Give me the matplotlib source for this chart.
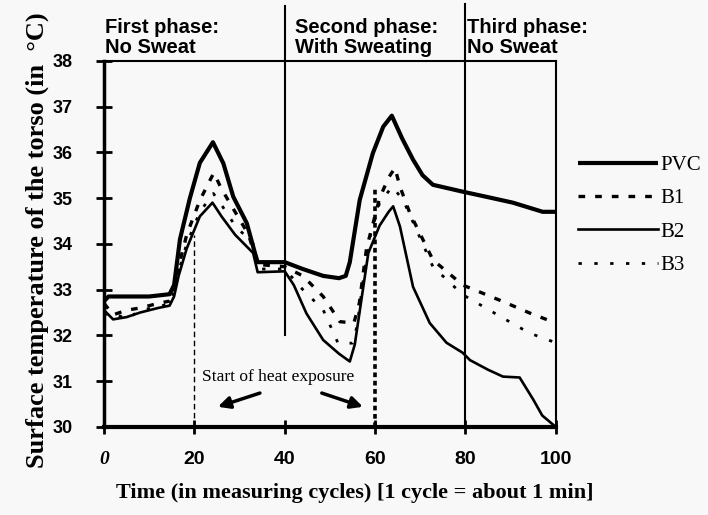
import numpy as np
import matplotlib.pyplot as plt
import matplotlib.transforms as mtransforms

# torso surface temperature
pvc_x = [0, 1, 10, 14.5, 15.5, 16.8, 19, 21.2, 24.1, 26.4, 28.6, 31.6, 33.4, 34, 40,
         44, 48.5, 52, 53.5, 54.4, 56.6, 59.5, 61.8, 63.7, 66, 68.4, 70.5, 72.8, 79.4,
         85, 90.5, 97.1, 100]
pvc_y = [32.75, 32.85, 32.85, 32.9, 33.1, 34.1, 35.0, 35.77, 36.22, 35.76, 35.03, 34.45,
         33.8, 33.6, 33.6, 33.45, 33.3, 33.25, 33.3, 33.6, 34.96, 35.98, 36.56, 36.8, 36.3,
         35.84, 35.5, 35.29, 35.14, 35.02, 34.9, 34.7, 34.7]

b1_x = [0, 2, 5, 8, 12, 14.5, 15.5, 16.5, 18.3, 21.2, 23.5, 24.3, 26, 29, 32, 33.5, 34,
        40, 44, 48.5, 52.2, 55.3, 56.5, 58.1, 61, 63, 64.4, 65.5, 67.7, 72.8, 79.4, 88.3,
        94.2, 100]
b1_y = [32.7, 32.45, 32.55, 32.6, 32.7, 32.75, 33.0, 33.5, 34.2, 34.95, 35.4, 35.55, 35.2,
        34.7, 34.2, 33.7, 33.55, 33.5, 33.3, 32.85, 32.3, 32.27, 32.7, 33.9, 35.0, 35.45,
        35.66, 35.25, 34.67, 33.65, 33.1, 32.74, 32.49, 32.27]

b2_x = [0, 2, 5, 8, 12, 14.5, 15.5, 16.5, 18.3, 21.2, 24, 26, 29, 33, 34, 40, 42, 44.8,
        48.5, 52, 54.4, 55.5, 57, 58.5, 61, 63, 64, 65.5, 68.4, 72.1, 75.8, 79.4, 81, 85,
        88.3, 92, 95, 97, 100]
b2_y = [32.55, 32.35, 32.4, 32.5, 32.6, 32.65, 32.85, 33.3, 33.9, 34.6, 34.9, 34.6, 34.2,
        33.8, 33.38, 33.4, 33.1, 32.48, 31.9, 31.6, 31.43, 31.8, 32.8, 33.8, 34.4, 34.7,
        34.82, 34.38, 33.06, 32.27, 31.84, 31.62, 31.46, 31.25, 31.1, 31.08, 30.6, 30.25,
        30.0]

b3_x = [0, 2, 5, 8, 12, 14.5, 15.5, 16.5, 18.3, 21.2, 24.2, 26, 29, 33, 34, 40, 44, 48.5,
        51.8, 55, 56, 57.5, 59, 61, 63.8, 66.2, 72.8, 79.4, 88.3, 94.2, 100]
b3_y = [32.45, 32.5, 32.35, 32.55, 32.62, 32.7, 32.95, 33.4, 34.0, 34.7, 35.1, 34.85, 34.4,
        34.0, 33.45, 33.45, 33.0, 32.56, 31.83, 31.83, 32.2, 33.3, 34.2, 34.9, 35.25, 34.96,
        33.5, 32.89, 32.38, 32.05, 31.84]

phase_bounds = [40, 80]
heat_start = [20, 60]
phase_texts = ['First phase:\nNo Sweat', 'Second phase:\nWith Sweating', 'Third phase:\nNo Sweat']
phase_text_x = [0.2, 42.3, 80.4]
x_ticks = [0, 20, 40, 60, 80, 100]
y_ticks = [30, 31, 32, 33, 34, 35, 36, 37, 38]

bg = '#f8f8f8'
fig = plt.figure(figsize=(7.08, 5.15), dpi=100, facecolor=bg)
ax = fig.add_axes([0.147, 0.171, 0.638, 0.711], facecolor=bg)

ax.plot(pvc_x, pvc_y, color='black', lw=3.0, label='PVC', solid_capstyle='butt')
ax.plot(b1_x, b1_y, color='black', lw=2.4, dashes=(2, 3), label='B1')
ax.plot(b2_x, b2_y, color='black', lw=1.9, label='B2')
ax.plot(b3_x, b3_y, color='black', lw=2.0, dashes=(1.2, 4.5), label='B3')

ax.set_xlim(0, 100)
ax.set_ylim(30, 38)

trans = mtransforms.blended_transform_factory(ax.transData, ax.transAxes)
# phase boundaries run above the plot area
ax.plot([phase_bounds[0]] * 2, [(32.0 - 30) / 8, 1.15], color='black', lw=1.5,
        transform=trans, clip_on=False)
ax.plot([phase_bounds[1]] * 2, [0, 1.155], color='black', lw=1.5,
        transform=trans, clip_on=False)

# start of heat exposure
ax.plot([heat_start[0]] * 2, [30, 34.2], color='black', lw=1.0, dashes=(4, 2.5))
ax.plot([heat_start[1]] * 2, [30, 35.2], color='black', lw=2.6, dashes=(1.3, 1.0))
ax.text(38.5, 31.0, 'Start of heat exposure', family='Liberation Serif', fontsize=12.5,
        ha='center', va='baseline')
arrow = dict(arrowstyle='-|>,head_length=0.7,head_width=0.35', color='black', lw=2.5,
             shrinkA=0, shrinkB=0)
ax.annotate('', xy=(25.2, 30.44), xytext=(34.5, 30.74), arrowprops=arrow)
ax.annotate('', xy=(57.3, 30.44), xytext=(48.2, 30.74), arrowprops=arrow)

for t, xp in zip(phase_texts, phase_text_x):
    ax.text(xp, 1.01, t, transform=trans, family='Liberation Sans', weight='bold',
            fontsize=14.5, ha='left', va='bottom', linespacing=1.1)

ax.set_xticks(x_ticks)
ax.set_xticklabels([str(v) for v in x_ticks], family='Liberation Sans', weight='bold',
                   fontsize=14)
lab0 = ax.get_xticklabels()[0]
lab0.set_family('Liberation Serif')
lab0.set_style('italic')
ax.set_yticks(y_ticks)
ax.set_yticklabels([str(v) for v in y_ticks], family='Liberation Sans', weight='bold',
                   fontsize=13)
ax.tick_params(axis='y', direction='inout', length=11, width=2, pad=17)
ax.tick_params(axis='x', direction='inout', length=10, width=2, pad=12)

ax.spines['left'].set_linewidth(2.5)
ax.spines['bottom'].set_linewidth(3)
ax.spines['top'].set_linewidth(1.5)
ax.spines['right'].set_linewidth(1.5)

fig.text(0.501, 0.043, 'Time (in measuring cycles) [1 cycle = about 1 min]',
         family='Liberation Serif', weight='bold', fontsize=16, ha='center', va='center')
fig.text(0.052, 0.534, 'Surface temperature of the torso (in  \u00b0C)',
         family='Liberation Serif', weight='bold', fontsize=19, ha='center', va='center',
         rotation=90)

ax.legend(loc='upper left', bbox_to_anchor=(0.816, 0.698), bbox_transform=fig.transFigure,
          frameon=False, handlelength=3.85, handletextpad=0.1, labelspacing=0.66,
          borderpad=0, borderaxespad=0,
          prop={'family': 'Liberation Serif', 'size': 15})

fig.savefig('out.png', dpi=100, facecolor=bg)
